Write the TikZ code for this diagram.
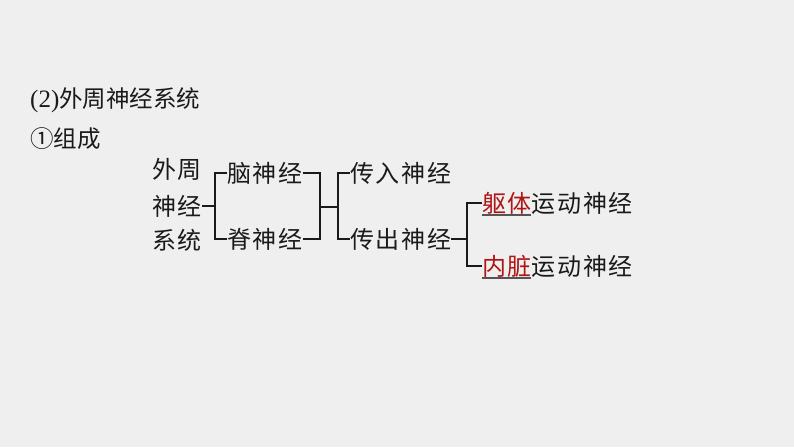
\documentclass[tikz,border=0pt]{standalone}
\usepackage{fontspec}
\setmainfont{Liberation Serif}
\newfontfamily\cjk{Noto Sans CJK SC}
\newfontfamily\cjksp[LetterSpace=7]{Noto Sans CJK SC}
\definecolor{bg}{HTML}{EFEFEF}
\definecolor{ink}{HTML}{1A1A1A}
\definecolor{redtxt}{HTML}{B01515}
\definecolor{uline}{HTML}{555555}
\tikzset{
  txt/.style={inner sep=0pt, anchor=west, text=ink, font=\fontsize{24}{24}\selectfont\cjksp},
  ttl/.style={inner sep=0pt, anchor=west, text=ink, font=\fontsize{23.5}{24}\selectfont\cjk},
  conn/.style={draw=ink, line width=1.5pt},
  ul/.style={draw=uline, line width=1.2pt}
}
\begin{document}
\begin{tikzpicture}[x=1pt,y=-1pt]
\useasboundingbox[fill=bg] (0,0) rectangle (794,447);
\node[ttl] (title) at (30,100) {{\rmfamily\fontsize{25}{25}\selectfont (2)}外周神经系统};
\node[ttl] (sub) at (30,139) {①组成};
\node[txt] (p1) at (152,169) {外周};
\node[txt] (p2) at (152,206) {神经};
\node[txt] (p3) at (152,240) {系统};
\node[txt] (nao) at (227,173) {脑神经};
\node[txt] (ji) at (227,239) {脊神经};
\node[txt] (cr) at (350,173) {传入神经};
\node[txt] (cc) at (350,239) {传出神经};
\node[txt] (qt) at (482,203) {\textcolor{redtxt}{躯体}运动神经};
\node[txt] (nz) at (482,266) {\textcolor{redtxt}{内脏}运动神经};
% bracket 1
\coordinate (b1) at (215,0);
\draw[conn] (p2.east) -- (p2.east -| b1);
\draw[conn] (nao.west) -- (nao.west -| b1) -- (ji.west -| b1) -- (ji.west);
% bracket 2
\coordinate (r1) at (320,0);
\coordinate (t1) at (338,0);
\coordinate (m1) at (320,207);
\draw[conn] (nao.east) -- (nao.east -| r1) -- (ji.east -| r1) -- (ji.east);
\draw[conn] (m1) -- (m1 -| t1);
\draw[conn] (cr.west) -- (cr.west -| t1) -- (cc.west -| t1) -- (cc.west);
% bracket 3
\coordinate (t2) at (467,0);
\draw[conn] (cc.east) -- (cc.east -| t2);
\draw[conn] (qt.west) -- (qt.west -| t2) -- (nz.west -| t2) -- (nz.west);
% underlines
\coordinate (u1) at (482,215);
\coordinate (u2) at (531,215);
\coordinate (u3) at (482,278);
\coordinate (u4) at (531,278);
\draw[ul] (u1) -- (u2);
\draw[ul] (u3) -- (u4);
\end{tikzpicture}
\end{document}
